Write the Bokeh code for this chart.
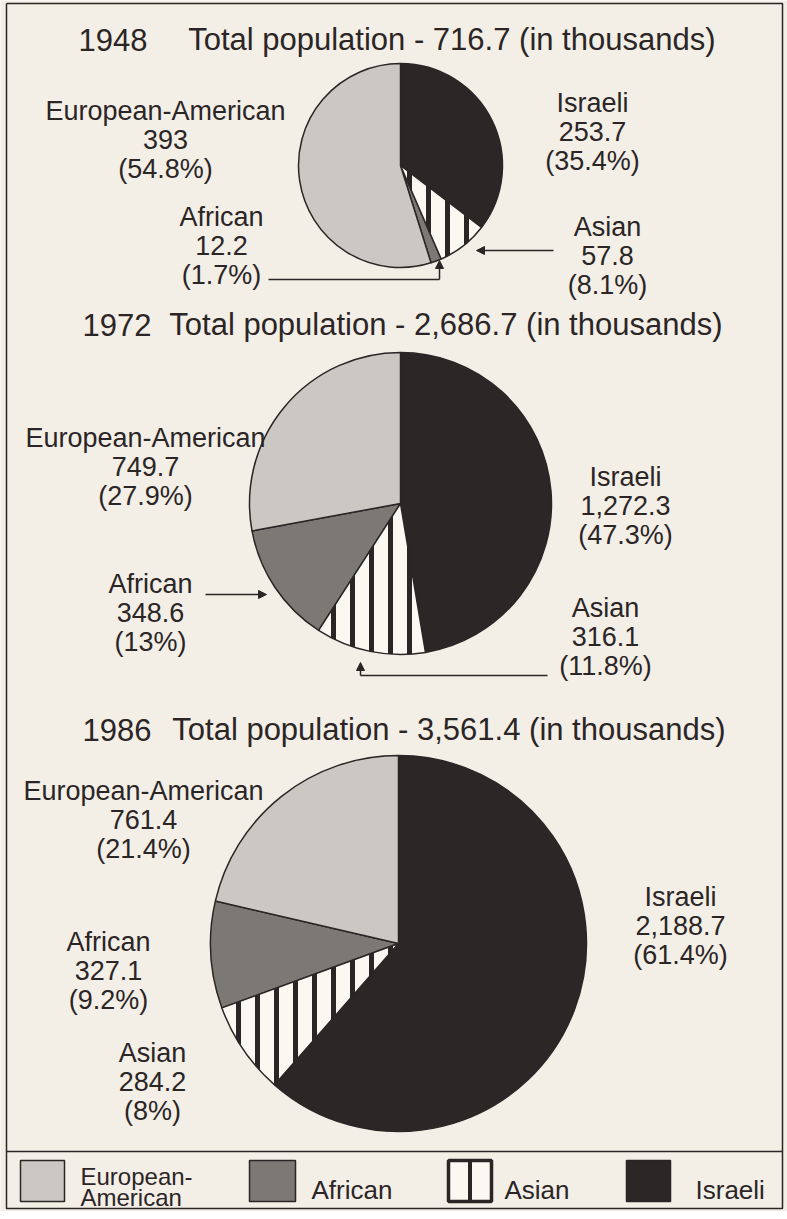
import math
from bokeh.plotting import figure
from bokeh.models import Range1d, Arrow, NormalHead, ColumnDataSource
from bokeh.core.properties import value
from bokeh.embed import file_html
from bokeh.resources import INLINE

# ---------------- data ----------------
categories = ["European-American", "African", "Asian", "Israeli"]
years = ["1948", "1972", "1986"]
totals = [716.7, 2686.7, 3561.4]
values_1948 = [393, 12.2, 57.8, 253.7]
values_1972 = [749.7, 348.6, 316.1, 1272.3]
values_1986 = [761.4, 327.1, 284.2, 2188.7]
percent_1948 = [54.8, 1.7, 8.1, 35.4]
percent_1972 = [27.9, 13, 11.8, 47.3]
percent_1986 = [21.4, 9.2, 8, 61.4]
clockwise_order = ["Israeli", "Asian", "African", "European-American"]

# ---------------- style / layout ----------------
BG = "#f3efe6"
INK = "#2b2526"
FONT = value("Liberation Sans")
FILLS = {"European-American": "#cbc8c3", "African": "#7c7874",
         "Asian": "#fbf8f1", "Israeli": "#2c2627"}

W, H = 787, 1211


def Y(y):
    return H - y


p = figure(width=W, height=H, x_range=Range1d(0, W), y_range=Range1d(0, H),
           output_backend="svg", toolbar_location=None, min_border=0,
           x_axis_location=None, y_axis_location=None)
p.grid.visible = False
p.outline_line_color = None
p.background_fill_color = BG
p.border_fill_color = BG

# outer frame and legend separator
p.line(x=[6, 782, 782, 6, 6], y=[Y(3), Y(3), Y(1208), Y(1208), Y(3)],
       line_color=INK, line_width=1.5)
p.line(x=[6, 782], y=[Y(1151), Y(1151)], line_color=INK, line_width=1.5)

# pie layout: center x, center y (image px), radius
pie_layout = [(400, 165, 102), (400, 503, 151), (398, 943, 188)]
all_values = [values_1948, values_1972, values_1986]
all_pcts = [percent_1948, percent_1972, percent_1986]

# title layout: year left x, baseline, right end x
title_layout = [(78, 39, 715), (82, 324, 722), (82, 729, 725)]

# label layout: (center x, first baseline) per category
label_layout = [
    {"European-American": (165, 110), "African": (221, 216),
     "Asian": (607, 226), "Israeli": (592, 102)},
    {"European-American": (145, 437), "African": (150, 583),
     "Asian": (605, 607), "Israeli": (625, 476)},
    {"European-American": (143, 790), "African": (108, 941),
     "Asian": (152, 1052), "Israeli": (680, 896)},
]
LINE_GAP = 29

for i, year in enumerate(years):
    vals = all_values[i]
    pcts = all_pcts[i]
    cx, cy, r = pie_layout[i]
    total = sum(vals)
    plain = dict(x=[], y=[], start=[], end=[], color=[])
    hatch = dict(x=[], y=[], start=[], end=[], color=[])
    cum = 0.0
    for cat in clockwise_order:
        v = vals[categories.index(cat)]
        a0 = cum / total * 2 * math.pi
        a1 = (cum + v) / total * 2 * math.pi
        cum += v
        d = hatch if cat == "Asian" else plain
        d["x"].append(cx)
        d["y"].append(Y(cy))
        d["start"].append(math.pi / 2 - a1)
        d["end"].append(math.pi / 2 - a0)
        d["color"].append(FILLS[cat])
    p.wedge(x="x", y="y", radius=r, start_angle="start", end_angle="end",
            fill_color="color", line_color=INK, line_width=1.5,
            source=ColumnDataSource(plain))
    p.wedge(x="x", y="y", radius=r, start_angle="start", end_angle="end",
            fill_color="color", line_color=INK, line_width=1.5,
            hatch_pattern="vertical_line", hatch_color=INK, hatch_weight=5,
            hatch_scale=19, source=ColumnDataSource(hatch))

    # title
    tx, tb, te = title_layout[i]
    p.text(x=[tx], y=[Y(tb)], text=[year], text_font=FONT, text_font_size="31px",
           text_color=INK, text_align="left", text_baseline="alphabetic")
    p.text(x=[te], y=[Y(tb)], text=[f"Total population - {totals[i]:,} (in thousands)"],
           text_font=FONT, text_font_size="31px", text_color=INK,
           text_align="right", text_baseline="alphabetic")

    # labels
    xs, ys, txt = [], [], []
    for k, cat in enumerate(categories):
        lx, lb = label_layout[i][cat]
        lines = [cat, f"{vals[k]:,}", f"({pcts[k]:g}%)"]
        for j, t in enumerate(lines):
            xs.append(lx)
            ys.append(Y(lb + j * LINE_GAP))
            txt.append(t)
    p.text(x=xs, y=ys, text=txt, text_font=FONT, text_font_size="27px",
           text_color=INK, text_align="center", text_baseline="alphabetic")

# pointer arrows
def arrow(x0, y0, x1, y1):
    p.add_layout(Arrow(end=NormalHead(size=8, fill_color=INK, line_color=INK, line_width=1),
                       x_start=x0, y_start=Y(y0), x_end=x1, y_end=Y(y1),
                       line_color=INK, line_width=1.5))

arrow(553, 250, 476, 250)
p.line(x=[268, 439], y=[Y(279), Y(279)], line_color=INK, line_width=1.5)
arrow(439, 279, 439, 260)
arrow(205, 594, 266, 594)
p.line(x=[547, 360], y=[Y(675), Y(675)], line_color=INK, line_width=1.5)
arrow(360, 675, 360, 662)

# legend
legend_boxes = {"European-American": (20, 64, 80), "African": (249, 295, 311),
                "Asian": (448, 491, 504), "Israeli": (626, 670, 695)}
BOX_TOP, BOX_BOT = 1160, 1201
for cat in categories:
    l, rgt, tx = legend_boxes[cat]
    if cat == "Asian":
        p.quad(left=[l], right=[rgt], top=[Y(BOX_TOP)], bottom=[Y(BOX_BOT)],
               fill_color=FILLS[cat], line_color=INK, line_width=3.5)
        m = (l + rgt) / 2
        p.line(x=[m, m], y=[Y(BOX_TOP), Y(BOX_BOT)], line_color=INK, line_width=4)
    else:
        p.quad(left=[l], right=[rgt], top=[Y(BOX_TOP)], bottom=[Y(BOX_BOT)],
               fill_color=FILLS[cat], line_color=INK, line_width=1.5)
    if "-" in cat:
        a, b = cat.split("-")
        p.text(x=[tx], y=[Y(1176)], text=[a + "-"], text_font=FONT,
               text_font_size="24px", text_color=INK, text_align="left",
               text_baseline="alphabetic")
        p.text(x=[tx], y=[Y(1197)], text=[b], text_font=FONT,
               text_font_size="24px", text_color=INK, text_align="left",
               text_baseline="alphabetic")
    else:
        p.text(x=[tx], y=[Y(1189)], text=[cat], text_font=FONT,
               text_font_size="26px", text_color=INK, text_align="left",
               text_baseline="alphabetic")

open("out.html", "w").write(file_html(p, INLINE))
